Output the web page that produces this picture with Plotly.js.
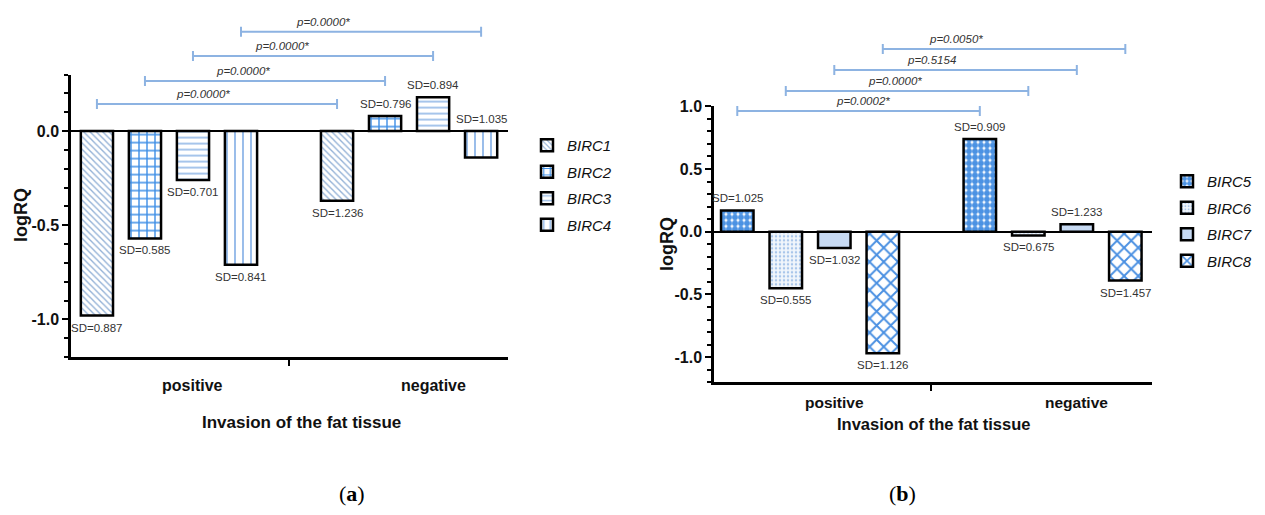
<!DOCTYPE html>
<html><head><meta charset="utf-8">
<script src="https://cdn.plot.ly/plotly-3.0.1.min.js"></script>
<style>html,body{margin:0;padding:0;background:#fff}#chart{width:1265px;height:515px}</style>
</head><body><div id="chart"></div>
<script>
// ---------- data ----------
const categories = ['positive', 'negative'];
const genesA = ['BIRC1', 'BIRC2', 'BIRC3', 'BIRC4'];
const genesB = ['BIRC5', 'BIRC6', 'BIRC7', 'BIRC8'];
const birc1 = [-0.98, -0.37];
const birc2 = [-0.57, 0.08];
const birc3 = [-0.26, 0.18];
const birc4 = [-0.71, -0.14];
const birc5 = [0.17, 0.74];
const birc6 = [-0.45, -0.03];
const birc7 = [-0.13, 0.06];
const birc8 = [-0.97, -0.39];
const sd1 = ['0.887', '1.236'];
const sd2 = ['0.585', '0.796'];
const sd3 = ['0.701', '0.894'];
const sd4 = ['0.841', '1.035'];
const sd5 = ['1.025', '0.909'];
const sd6 = ['0.555', '0.675'];
const sd7 = ['1.032', '1.233'];
const sd8 = ['1.126', '1.457'];
const pA = ['p=0.0000*', 'p=0.0000*', 'p=0.0000*', 'p=0.0000*'];
const pB = ['p=0.0002*', 'p=0.0000*', 'p=0.5154', 'p=0.0050*'];
const yTickValsA = [0, -0.5, -1.0];
const yTickTextA = ['0.0', '-0.5', '-1.0'];
const yTickValsB = [1.0, 0.5, 0, -0.5, -1.0];
const yTickTextB = ['1.0', '0.5', '0.0', '-0.5', '-1.0'];
const xTitle = 'Invasion of the fat tissue';
const yTitle = 'logRQ';

// ---------- layout / style config ----------
const W = 1265, H = 515;
const FONT = 'Liberation Sans, Arial, Helvetica, sans-serif';
const dom = {
  xA: [71 / W, 508 / W], yA: [(H - 357) / H, (H - 74.6) / H],
  xB: [714 / W, 1152 / W], yB: [(H - 382.2) / H, (H - 106.3) / H]
};
const rng = { xA: [-0.408, 1.412], yA: [-1.2, 0.3], xB: [-0.396, 1.41], yB: [-1.2, 1.0] };
const toPaper = (d, r, v) => d[0] + (v - r[0]) / (r[1] - r[0]) * (d[1] - d[0]);
const slot = 0.2; // group width 0.8 / 4 bars
const barCenter = (cat, j) => cat + (j - 1.5) * slot;

const patterns = {
  BIRC1: { shape: '\\', fgcolor: '#93b1d6', bgcolor: '#ffffff', size: 4.5, solidity: 0.3 },
  BIRC2: { shape: '+', fgcolor: '#3d8ee6', bgcolor: '#ffffff', size: 8, solidity: 0.32 },
  BIRC3: { shape: '-', fgcolor: '#9cbfe9', bgcolor: '#ffffff', size: 6, solidity: 0.3 },
  BIRC4: { shape: '|', fgcolor: '#8db5e8', bgcolor: '#ffffff', size: 8, solidity: 0.22 },
  BIRC5: { shape: '.', fgcolor: '#4b92e3', bgcolor: '#ffffff', size: 6, solidity: 0.75 },
  BIRC6: { shape: '.', fgcolor: '#a9c6ea', bgcolor: '#f1f6fc', size: 4, solidity: 0.3 },
  BIRC7: { shape: '', fgcolor: '#c7daf3', bgcolor: '#c7daf3' },
  BIRC8: { shape: 'x', fgcolor: '#4a90e2', bgcolor: '#ffffff', size: 10, solidity: 0.35 }
};
const fillColor = { BIRC7: '#c7daf3' };

const valsA = [birc1, birc2, birc3, birc4];
const valsB = [birc5, birc6, birc7, birc8];
const sdA = [sd1, sd2, sd3, sd4];
const sdB = [sd5, sd6, sd7, sd8];
// label side per gene / category (style)
const sideA = [['below', 'below'], ['below', 'above'], ['below', 'above'], ['below', 'above']];
const sideB = [['above', 'above'], ['below', 'below'], ['below', 'above'], ['below', 'below']];
const bracketYA = [0.144, 0.266, 0.399, 0.527];
const bracketYB = [0.962, 1.122, 1.29, 1.457];
const labelFracA = [0.44, 0.41, 0.37, 0.34];
const labelFracB = [0.52, 0.45, 0.40, 0.30];

// ---------- traces ----------
const traces = [];
function addBars(genes, vals, xa, ya, legendName) {
  genes.forEach((g, j) => {
    traces.push({
      type: 'bar', name: g, x: categories, y: vals[j], xaxis: xa, yaxis: ya,
      legend: legendName, legendgroup: g,
      marker: { color: fillColor[g] || '#ffffff', pattern: patterns[g], line: { color: '#000000', width: 2.5 } },
      hoverinfo: 'name+y'
    });
  });
}
addBars(genesA, valsA, 'x', 'y', 'legend');
addBars(genesB, valsB, 'x2', 'y2', 'legend2');

// ---------- annotations & shapes ----------
const annotations = [];
const shapes = [];
function panelDecor(genes, vals, sds, sides, bY, frac, pLabels, xd, yd, xr, yr, catShift, catSize) {
  genes.forEach((g, j) => {
    categories.forEach((c, i) => {
      const v = vals[j][i];
      const side = sides[j][i];
      const yv = side === 'above' ? Math.max(v, 0) : Math.min(v, 0);
      annotations.push({
        xref: 'paper', yref: 'paper', showarrow: false,
        x: toPaper(xd, xr, barCenter(i, j)), y: toPaper(yd, yr, yv),
        yshift: side === 'above' ? 12 : -12, xanchor: 'center', yanchor: 'middle',
        text: 'SD=' + sds[j][i], font: { family: FONT, size: 11.5, color: '#333333' }
      });
    });
    // brackets
    const x1 = toPaper(xd, xr, barCenter(0, j));
    const x2 = toPaper(xd, xr, barCenter(1, j));
    const yb = toPaper(yd, yr, bY[j]);
    const t = 5 / H;
    shapes.push({
      type: 'path', xref: 'paper', yref: 'paper',
      path: `M${x1},${yb - t}V${yb + t}M${x1},${yb}H${x2}M${x2},${yb - t}V${yb + t}`,
      line: { color: '#8db3e2', width: 2 }
    });
    annotations.push({
      xref: 'paper', yref: 'paper', showarrow: false,
      x: x1 + (x2 - x1) * frac[j], y: yb, yshift: 10, xanchor: 'center', yanchor: 'middle',
      text: pLabels[j], font: { family: FONT, size: 11.5, color: '#333333', style: 'italic' }
    });
  });
  categories.forEach((c, i) => {
    annotations.push({
      xref: 'paper', yref: 'paper', showarrow: false,
      x: toPaper(xd, xr, i + 0.1), y: yd[0], yshift: -catShift, xanchor: 'center', yanchor: 'middle',
      text: c, font: { family: FONT, size: catSize, color: '#111111', weight: 'bold' }
    });
  });
}
panelDecor(genesA, valsA, sdA, sideA, bracketYA, labelFracA, pA, dom.xA, dom.yA, rng.xA, rng.yA, 28, 16);
panelDecor(genesB, valsB, sdB, sideB, bracketYB, labelFracB, pB, dom.xB, dom.yB, rng.xB, rng.yB, 20.5, 15.5);

// axis titles
annotations.push({
  xref: 'paper', yref: 'paper', showarrow: false, x: 301 / W, y: 1 - 422 / H,
  xanchor: 'center', yanchor: 'middle', text: xTitle,
  font: { family: FONT, size: 17, color: '#111111', weight: 'bold' }
});
annotations.push({
  xref: 'paper', yref: 'paper', showarrow: false, x: 933 / W, y: 1 - 424 / H,
  xanchor: 'center', yanchor: 'middle', text: xTitle,
  font: { family: FONT, size: 16.5, color: '#111111', weight: 'bold' }
});
annotations.push({
  xref: 'paper', yref: 'paper', showarrow: false, x: 21 / W, y: 1 - 215 / H, textangle: -90,
  xanchor: 'center', yanchor: 'middle', text: yTitle,
  font: { family: FONT, size: 18, color: '#111111', weight: 'bold' }
});
annotations.push({
  xref: 'paper', yref: 'paper', showarrow: false, x: 667 / W, y: 1 - 244 / H, textangle: -90,
  xanchor: 'center', yanchor: 'middle', text: yTitle,
  font: { family: FONT, size: 18, color: '#111111', weight: 'bold' }
});
annotations.push({
  xref: 'paper', yref: 'paper', showarrow: false, x: 352 / W, y: 1 - 493 / H,
  xanchor: 'center', yanchor: 'middle', text: '(<b>a</b>)',
  font: { family: 'Liberation Serif, Times New Roman, serif', size: 22, color: '#000' }
});
annotations.push({
  xref: 'paper', yref: 'paper', showarrow: false, x: 902 / W, y: 1 - 493 / H,
  xanchor: 'center', yanchor: 'middle', text: '(<b>b</b>)',
  font: { family: 'Liberation Serif, Times New Roman, serif', size: 22, color: '#000' }
});

// ---------- axes ----------
function xAxis(d, r) {
  return {
    domain: d, range: r, type: 'category',
    showline: true, linecolor: '#000', linewidth: 2.5, showgrid: false, zeroline: false,
    tickmode: 'array', tickvals: [0.5], ticktext: [''], ticks: 'outside', ticklen: 6, tickwidth: 2,
    tickcolor: '#000', showticklabels: false, fixedrange: true, automargin: false
  };
}
function yAxis(d, r, tv, tt) {
  return {
    domain: d, range: r, showline: true, linecolor: '#000', linewidth: 2.5,
    showgrid: false, zeroline: true, zerolinecolor: '#000', zerolinewidth: 2.2,
    tickmode: 'array', tickvals: tv, ticktext: tt, ticks: 'outside', ticklen: 6, tickwidth: 2, tickcolor: '#000',
    minor: { tickmode: 'linear', tick0: 0, dtick: 0.1, ticks: 'outside', ticklen: 4, tickwidth: 1.5, tickcolor: '#000', showgrid: false },
    tickfont: { family: FONT, size: 16, color: '#111', weight: 'bold' },
    fixedrange: true, automargin: false
  };
}
const xa = xAxis(dom.xA, rng.xA); xa.anchor = 'y';
const xb = xAxis(dom.xB, rng.xB); xb.anchor = 'y2';
const ya = yAxis(dom.yA, rng.yA, yTickValsA, yTickTextA); ya.anchor = 'x';
const yb = yAxis(dom.yB, rng.yB, yTickValsB, yTickTextB); yb.anchor = 'x2';

const legendFont = { family: FONT, size: 15, color: '#111', style: 'italic' };
const layout = {
  width: W, height: H, margin: { l: 0, r: 0, t: 0, b: 0 },
  paper_bgcolor: '#ffffff', plot_bgcolor: 'rgba(0,0,0,0)',
  barmode: 'group', bargap: 0.2, bargroupgap: 0.33,
  xaxis: xa, yaxis: ya, xaxis2: xb, yaxis2: yb,
  showlegend: true,
  legend: { x: 527 / W, xanchor: 'left', y: 1 - 129 / H, yanchor: 'top', font: legendFont,
            tracegroupgap: 4, bgcolor: 'rgba(0,0,0,0)', borderwidth: 0 },
  legend2: { x: 1167 / W, xanchor: 'left', y: 1 - 165 / H, yanchor: 'top', font: legendFont,
             tracegroupgap: 4, bgcolor: 'rgba(0,0,0,0)', borderwidth: 0 },
  annotations: annotations, shapes: shapes
};
Plotly.newPlot('chart', traces, layout, { displayModeBar: false });
</script>
</body></html>
